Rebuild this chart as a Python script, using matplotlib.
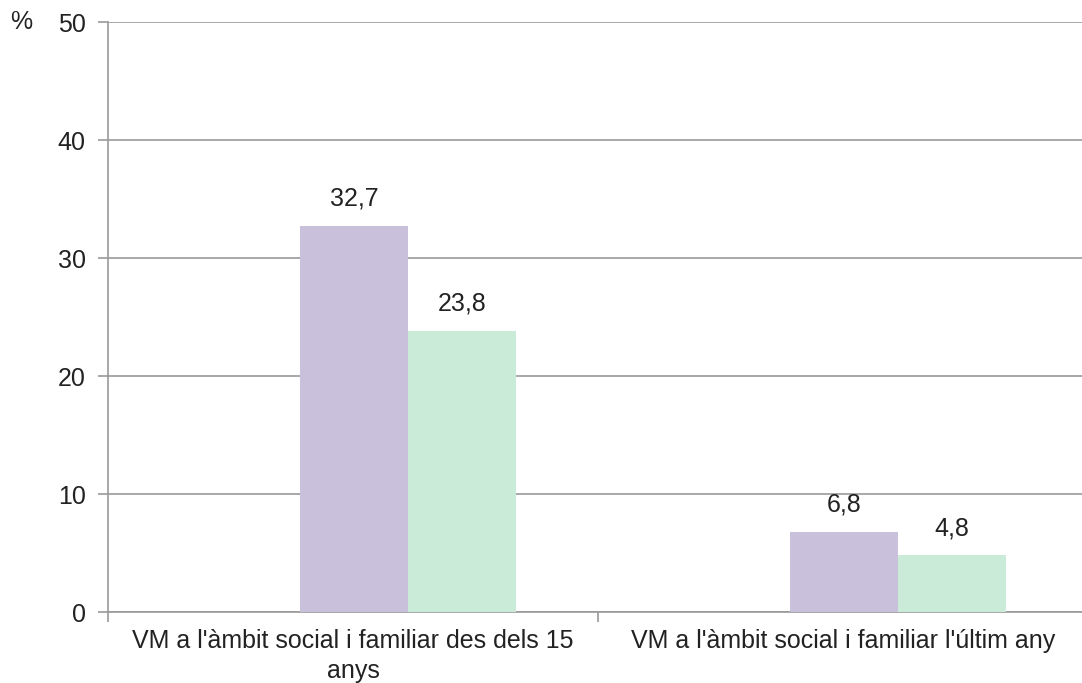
import matplotlib.pyplot as plt
import numpy as np

plt.rcParams['font.family'] = ['Liberation Sans', 'DejaVu Sans']

categories = ["VM a l'àmbit social i familiar des dels 15\nanys",
              "VM a l'àmbit social i familiar l'últim any"]
serie1 = [32.7, 6.8]
serie2 = [23.8, 4.8]
yticks = [0, 10, 20, 30, 40, 50]

col1 = '#c9c0db'
col2 = '#c9ebd8'
grid = '#9a9a9a'
fs = 18

fig = plt.figure(figsize=(10.82, 6.83), dpi=100)
ax = fig.add_axes([108 / 1082, 71 / 683, 980 / 1082, 590 / 683])

x = np.arange(len(categories))
w = 0.22
b1 = ax.bar(x - 0.108 + w / 2, serie1, w, color=col1, zorder=3)
b2 = ax.bar(x + 0.112 + w / 2, serie2, w, color=col2, zorder=3)

for bars, vals in [(b1, serie1), (b2, serie2)]:
    for r, v in zip(bars, vals):
        ax.text(r.get_x() + r.get_width() / 2, v + 1.3, f"{v:.1f}".replace('.', ','),
                ha='center', va='bottom', fontsize=fs, color='#222222')

ax.set_xlim(-0.5, 1.5)
ax.set_ylim(0, 50)
ax.set_yticks(yticks)
ax.yaxis.grid(True, color=grid, linewidth=1.2, zorder=0)
ax.tick_params(axis='y', length=7, width=1.2, color=grid, labelsize=fs,
               labelcolor='#222222', pad=9)

ax.set_xticks([-0.5, 0.5, 1.5])
ax.set_xticklabels([])
ax.set_xticks(x, minor=True)
ax.set_xticklabels(categories, minor=True, fontsize=fs, color='#222222',
                   linespacing=1.35)
ax.tick_params(axis='x', which='major', length=7, width=1.2, color=grid, direction='out')
ax.tick_params(axis='x', which='minor', length=0, pad=12)

for s in ['top', 'right']:
    ax.spines[s].set_visible(False)
ax.spines['left'].set_color(grid)
ax.spines['left'].set_linewidth(1.2)
ax.spines['bottom'].set_color(grid)
ax.spines['bottom'].set_linewidth(1.2)

fig.text(10 / 1082, 1 - 22 / 683, '%', ha='left', va='center', fontsize=fs, color='#222222')

plt.savefig('out.png', dpi=100)
